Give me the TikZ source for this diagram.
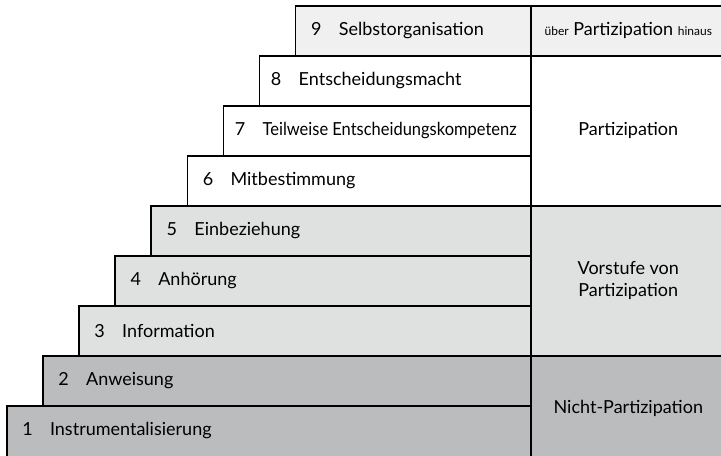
\documentclass[tikz,border=0pt]{standalone}
\usepackage{fontspec}
\usepackage{graphicx}
\setmainfont{Lato}
\usetikzlibrary{positioning}
\definecolor{nichtgrau}{HTML}{BBBCBD}
\definecolor{vorgrau}{HTML}{DFE0E0}
\definecolor{uebergrau}{HTML}{F0F0F0}
\tikzset{
  stepbox/.style={draw=black, line width=1.2pt, rectangle, inner sep=0pt, anchor=north west},
  steplabel/.style={anchor=west, inner sep=0pt, font=\fontsize{13.5}{16}\selectfont},
  catbox/.style={stepbox, align=center, font=\fontsize{13.5}{16.5}\selectfont},
}
\newcommand{\klein}[1]{{\fontsize{9}{10}\selectfont #1}}

\begin{document}
\begin{tikzpicture}[x=0.75pt,y=-0.75pt]
  \clip (0,0) rectangle (721,455);
  % Stufen
  \foreach \i/\txt/\col in {1/Instrumentalisierung/nichtgrau, 2/Anweisung/nichtgrau,
      3/Information/vorgrau, 4/Anhörung/vorgrau, 5/Einbeziehung/vorgrau,
      6/Mitbestimmung/white,
      7/{\scalebox{0.915}[1]{Teilweise Entscheidungskompetenz}}/white,
      8/Entscheidungsmacht/white, 9/Selbstorganisation/uebergrau}{
    \pgfmathsetmacro{\lx}{6+36.1*(\i-1)}
    \pgfmathsetmacro{\ty}{455-50*\i}
    \pgfmathsetmacro{\w}{(530-\lx)*0.75}
    \pgfmathsetmacro{\h}{\i==1 ? 42 : 37.5}
    \pgfmathsetmacro{\dx}{\i==7 || \i==8 ? 9 : 12}
    \node[stepbox, fill=\col, minimum width=\w pt, minimum height=\h pt] (s\i) at (\lx,\ty) {};
    \node[steplabel] (t\i) at ([xshift=\dx pt, yshift={(\i==1 ? 2.25 : 0)*1pt}]s\i.west) {\i\hspace{13pt}\txt};
  }
  % Einordnung
  \node[catbox, fill=uebergrau, minimum width=146.25pt, minimum height=37.5pt] (k4) at (530,5)
    {\klein{über} Partizipation \klein{hinaus}};
  \node[catbox, fill=white, minimum width=146.25pt, minimum height=112.5pt] (k3) at (530,55)
    {Partizipation};
  \node[catbox, fill=vorgrau, minimum width=146.25pt, minimum height=112.5pt] (k2) at (530,205)
    {Vorstufe von\\Partizipation};
  \node[catbox, fill=nichtgrau, minimum width=146.25pt, minimum height=79.5pt] (k1) at (530,355)
    {Nicht-Partizipation};
\end{tikzpicture}
\end{document}
